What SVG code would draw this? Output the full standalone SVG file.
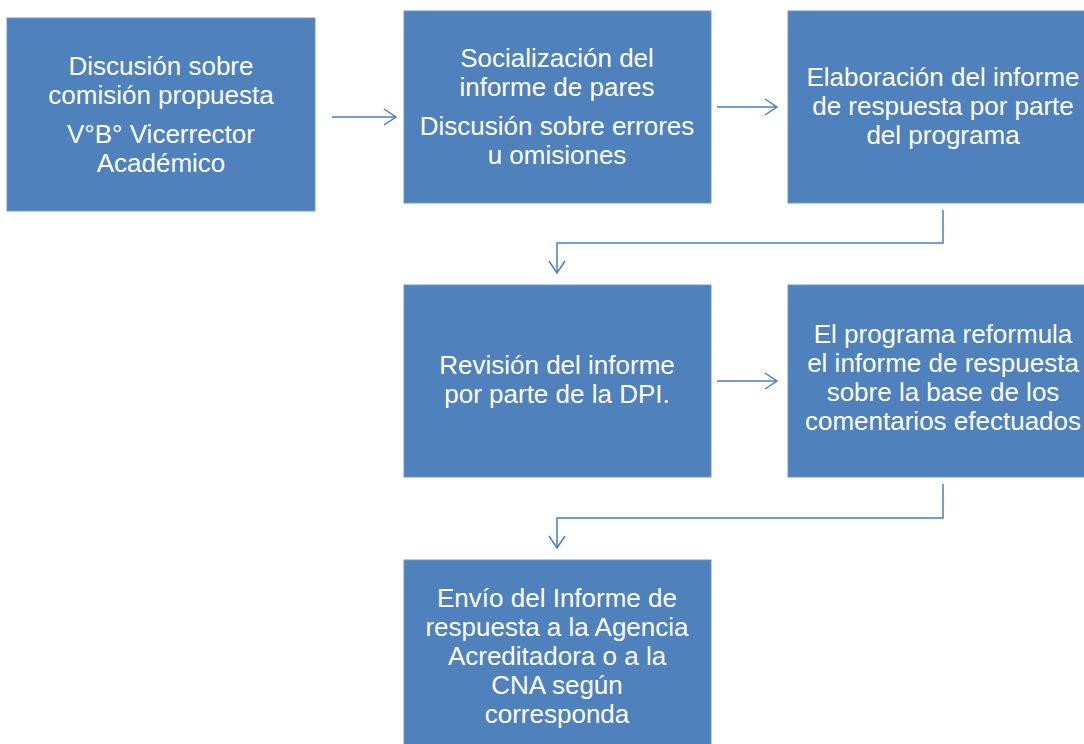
<svg xmlns="http://www.w3.org/2000/svg" width="1084" height="744" viewBox="0 0 1084 744">
<style>
.box{fill:#4F81BD;stroke:#6C96C8;stroke-width:1}
.t{font-family:"Liberation Sans",Arial,sans-serif;font-size:26px;fill:#FFFFFF;text-anchor:middle}
.c{fill:none;stroke:#4A7EBB;stroke-width:1.5}
</style>
<defs>
<marker id="ah" viewBox="0 0 14 18" refX="13" refY="9" markerWidth="14" markerHeight="18" markerUnits="userSpaceOnUse" orient="auto">
<path d="M1,1 L13,9 L1,17" fill="none" stroke="#4A7EBB" stroke-width="1.5"/>
</marker>
</defs>
<rect width="1084" height="744" fill="#FFFFFF"/>
<g id="n1">
<rect class="box" x="7" y="18" width="308" height="193"/>
<text class="t" x="161" y="75">Discusión sobre</text>
<text class="t" x="161" y="104">comisión propuesta</text>
<text class="t" x="161" y="143">V°B° Vicerrector</text>
<text class="t" x="161" y="172">Académico</text>
</g>
<g id="n2">
<rect class="box" x="404" y="11" width="307" height="192"/>
<text class="t" x="557" y="67">Socialización del</text>
<text class="t" x="557" y="96">informe de pares</text>
<text class="t" x="557" y="135">Discusión sobre errores</text>
<text class="t" x="557" y="164">u omisiones</text>
</g>
<g id="n3">
<rect class="box" x="788" y="11" width="310" height="192"/>
<text class="t" x="943" y="86">Elaboración del informe</text>
<text class="t" x="943" y="115">de respuesta por parte</text>
<text class="t" x="943" y="144">del programa</text>
</g>
<g id="n4">
<rect class="box" x="404" y="285" width="307" height="192"/>
<text class="t" x="557" y="374">Revisión del informe</text>
<text class="t" x="557" y="403">por parte de la DPI.</text>
</g>
<g id="n5">
<rect class="box" x="788" y="285" width="310" height="192"/>
<text class="t" x="943" y="343">El programa reformula</text>
<text class="t" x="943" y="372">el informe de respuesta</text>
<text class="t" x="943" y="401">sobre la base de los</text>
<text class="t" x="943" y="430">comentarios efectuados</text>
</g>
<g id="n6">
<rect class="box" x="404" y="560" width="307" height="190"/>
<text class="t" x="557" y="607">Envío del Informe de</text>
<text class="t" x="557" y="636">respuesta a la Agencia</text>
<text class="t" x="557" y="665">Acreditadora o a la</text>
<text class="t" x="557" y="694">CNA según</text>
<text class="t" x="557" y="723">corresponda</text>
</g>
<g id="connectors">
<path class="c" d="M332,117 H396" marker-end="url(#ah)"/>
<path class="c" d="M717,107 H777" marker-end="url(#ah)"/>
<path class="c" d="M943,210 V243 H557 V273" marker-end="url(#ah)"/>
<path class="c" d="M717,381 H777" marker-end="url(#ah)"/>
<path class="c" d="M943,484 V518 H557 V548" marker-end="url(#ah)"/>
</g>
</svg>
